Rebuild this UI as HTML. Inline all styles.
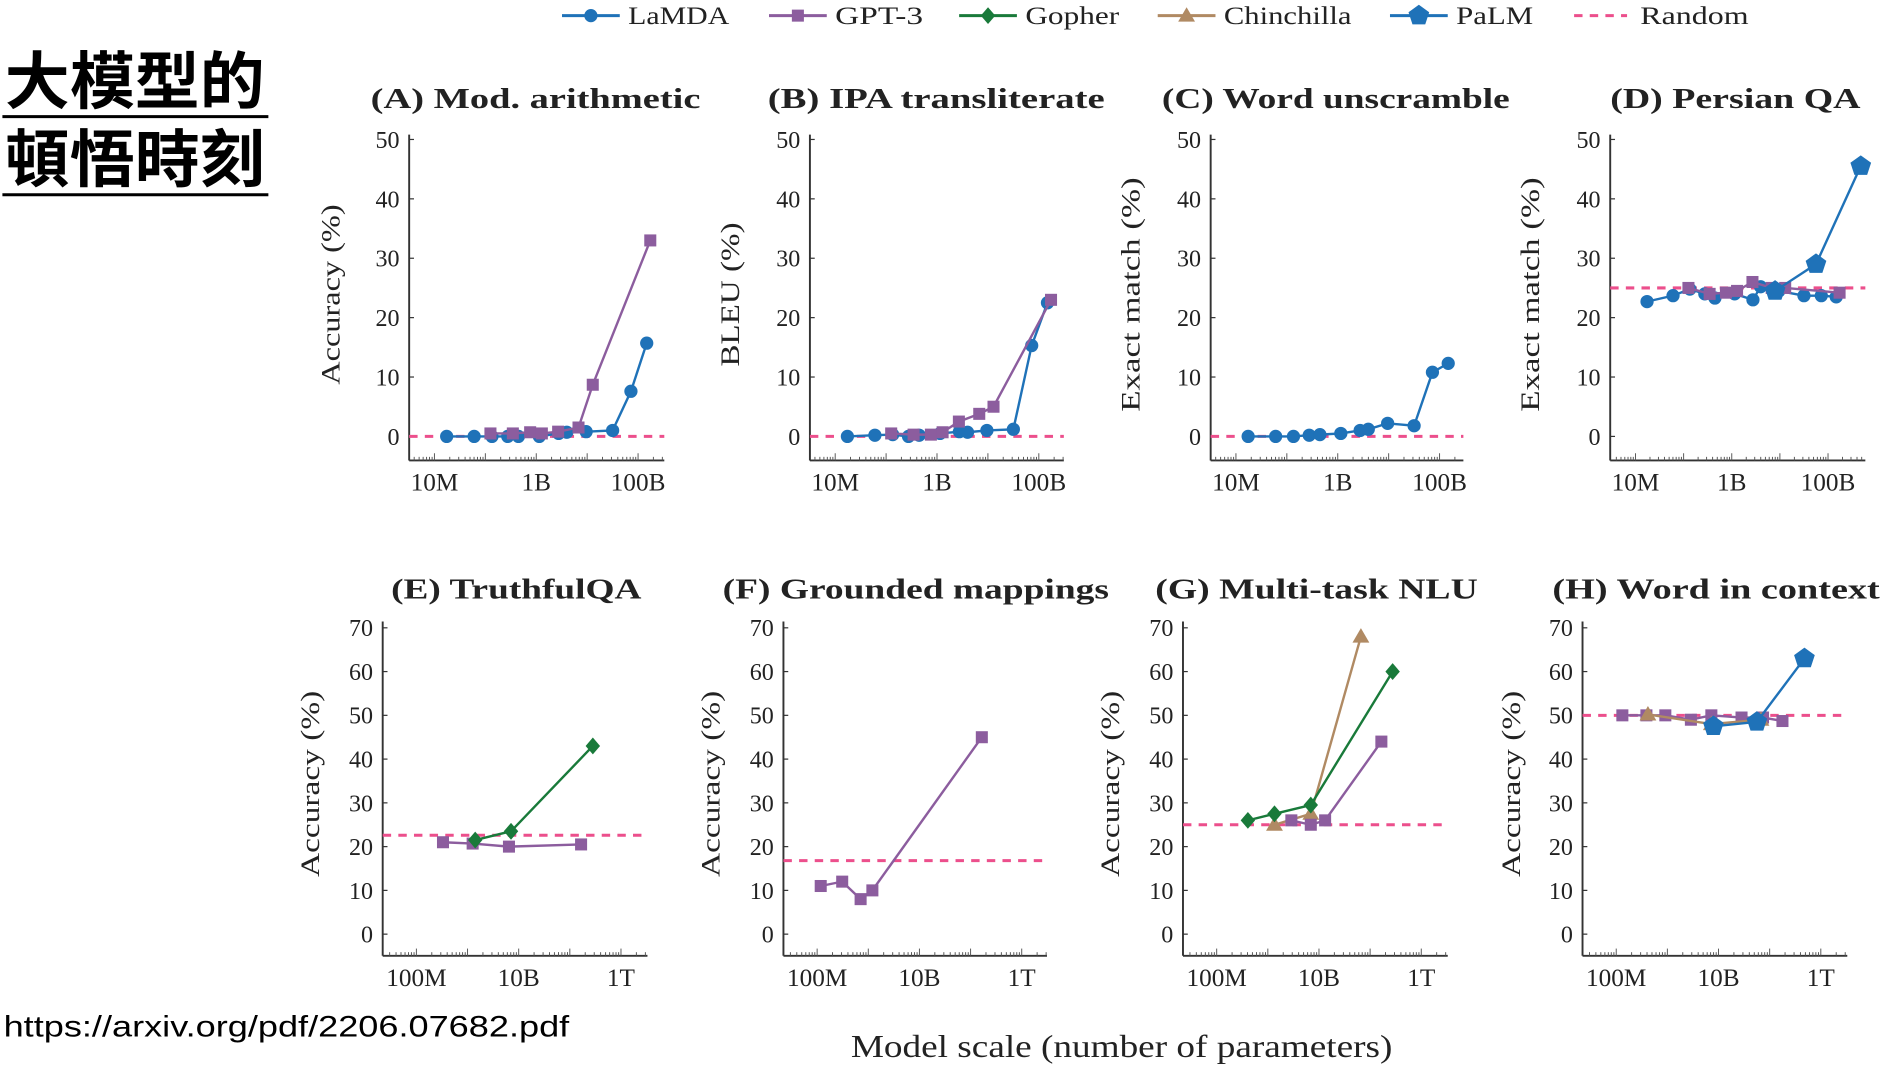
<!DOCTYPE html>
<html><head><meta charset="utf-8"><style>
html,body{margin:0;padding:0;background:#fff;}
svg{display:block;}
text{font-family:"Liberation Serif",serif;fill:#222;}
</style></head><body>
<svg id="c" width="1887" height="1070" viewBox="0 0 1568 890" preserveAspectRatio="none">
<g>
<text x="4" y="86" textLength="216" lengthAdjust="spacingAndGlyphs" style="font-family:'Liberation Sans','Noto Sans CJK TC',sans-serif;font-size:52px;font-weight:bold;fill:#000">大模型的</text>
<line x1="2" y1="97" x2="223" y2="97" stroke="#000" stroke-width="2.5"/>
<text x="4" y="151" textLength="216" lengthAdjust="spacingAndGlyphs" style="font-family:'Liberation Sans','Noto Sans CJK TC',sans-serif;font-size:52px;font-weight:bold;fill:#000">頓悟時刻</text>
<line x1="2" y1="162" x2="223" y2="162" stroke="#000" stroke-width="2.5"/>
</g>
<text x="3" y="862" textLength="470" lengthAdjust="spacingAndGlyphs" style="font-family:'Liberation Sans',sans-serif;font-size:25px;fill:#000">https://arxiv.org/pdf/2206.07682.pdf</text>
<text x="707" y="879" textLength="450" lengthAdjust="spacingAndGlyphs" style="font-size:26px">Model scale (number of parameters)</text>
<g id="legend"></g>
<g id="panels"></g>
</svg>
<script>
// ---- data (log10 params, values in %) ----
const lamdaX = [7.24,7.78,8.13,8.44,8.65,9.06,9.44,9.6,9.98,10.5,10.86,11.17];
const gpt3X = [8.1,8.54,8.88,9.11,9.43,9.83,10.11,11.24];
const palmX = [9.9,10.75,11.68];
const aLamda = [0,0,0,0,0,0,0.5,0.7,0.8,1,7.6,15.7];
const aGpt3 = [0.5,0.5,0.7,0.5,0.8,1.5,8.7,33];
const bLamda = [0,0.2,0.3,0,0.2,0.5,0.8,0.7,1,1.2,15.3,22.5];
const bGpt3 = [0.5,0.3,0.3,0.7,2.5,3.8,5,23];
const cLamda = [0,0,0,0.2,0.3,0.5,1,1.2,2.2,1.8,10.8,12.3];
const dLamda = [22.7,23.7,24.8,24,23.3,24,23,25.2,24.5,23.7,23.7,23.5];
const dGpt3 = [25,24,24.2,24.5,26,25,25,24.2];
const dPalm = [24.5,29,45.5];
const eGpt3X = [8.52,9.1,9.81,11.22];
const eGpt3 = [21,20.7,20,20.5];
const gopherX = [9.15,9.85,11.45];
const eGopher = [21.5,23.5,43];
const fGpt3X = [8.07,8.49,8.85,9.08,11.22];
const fGpt3 = [11,12,8,10,45];
const gGopherX = [8.61,9.13,9.84,11.44];
const gGopher = [26,27.5,29.5,60];
const gChinX = [9.13,9.84,10.82];
const gChin = [25,27.5,68];
const gGpt3X = [9.46,9.84,10.12,11.22];
const gGpt3 = [26,25,26,44];
const hGpt3X = [8.12,8.59,8.96,9.46,9.86,10.45,10.87,11.25];
const hGpt3 = [50,50,50,49,50,49.5,49.5,48.7];
const hChinX = [8.62,9.86,10.83];
const hChin = [50.2,48,49];
const hPalm = [47.5,48.5,63];
const randomLevels = [0,0,0,25,22.6,16.8,25,50];
const topTicks = [0,10,20,30,40,50];
const botTicks = [0,10,20,30,40,50,60,70];
const topXLabels = ["10M","1B","100B"];
const botXLabels = ["100M","10B","1T"];

const C = {lamda:"#1f72b8",gpt3:"#8c5d9e",gopher:"#197a3a",chin:"#b08a63",palm:"#1f72b8",rand:"#ec4f8c"};
const NS="http://www.w3.org/2000/svg";
const svg=document.getElementById('c');
function el(tag,attrs,parent){const e=document.createElementNS(NS,tag);for(const k in attrs)e.setAttribute(k,attrs[k]);parent.appendChild(e);return e;}

function marker(g,type,x,y,color){
  let m;
  if(type==='circle'){m=el('circle',{cx:x,cy:y,r:5.5,fill:color},g);}
  else if(type==='square'){m=el('rect',{x:x-5,y:y-5,width:10,height:10,fill:color},g);}
  else if(type==='diamond'){m=el('polygon',{points:`${x},${y-7} ${x+6},${y} ${x},${y+7} ${x-6},${y}`,fill:color},g);}
  else if(type==='triangle'){m=el('polygon',{points:`${x},${y-7} ${x+7},${y+5} ${x-7},${y+5}`,fill:color},g);}
  else {let p=[];for(let i=0;i<5;i++){const a=-Math.PI/2+i*2*Math.PI/5;p.push((x+9*Math.cos(a)).toFixed(1)+','+(y+9*Math.sin(a)).toFixed(1));}m=el('polygon',{points:p.join(' '),fill:color},g);}
  return m;
}

// legend
const lg=document.getElementById('legend');
const legendItems=[["LaMDA",C.lamda,'circle',467,84],["GPT-3",C.gpt3,'square',639,73],["Gopher",C.gopher,'diamond',797,78],["Chinchilla",C.chin,'triangle',962,106],["PaLM",C.palm,'pentagon',1155,64],["Random",C.rand,null,1308,90]];
legendItems.forEach(([name,col,type,x,w])=>{
  const g=el('g',{},lg);
  
  
  if(type){el('line',{x1:x,y1:13,x2:x+48,y2:13,stroke:col,'stroke-width':2.5},g);marker(g,type,x+24,13,col);}
  else el('line',{x1:x,y1:13,x2:x+44,y2:13,stroke:col,'stroke-width':2.5,'stroke-dasharray':'7,6'},g);
  const t=el('text',{x:x+55,y:20,'font-size':21,textLength:w,lengthAdjust:'spacingAndGlyphs'},g);t.textContent=name;
});

const panels=[
 {id:'A',title:'(A) Mod. arithmetic',tw:274,ylab:'Accuracy (%)',yw:150,ax:340,ref:361,dec:42.3,xend:552,row:0,tcx:445,ylx:282,
  series:[[lamdaX,aLamda,'lamda','circle'],[gpt3X,aGpt3,'gpt3','square']]},
 {id:'B',title:'(B) IPA transliterate',tw:280,ylab:'BLEU (%)',yw:120,ax:673,ref:694,dec:42.3,xend:884,row:0,tcx:778,ylx:614,
  series:[[lamdaX,bLamda,'lamda','circle'],[gpt3X,bGpt3,'gpt3','square']]},
 {id:'C',title:'(C) Word unscramble',tw:289,ylab:'Exact match (%)',yw:195,ax:1006,ref:1027,dec:42.3,xend:1216,row:0,tcx:1110,ylx:947,
  series:[[lamdaX,cLamda,'lamda','circle']]},
 {id:'D',title:'(D) Persian QA',tw:208,ylab:'Exact match (%)',yw:195,ax:1338,ref:1359,dec:40,xend:1550,row:0,tcx:1442,ylx:1279,
  series:[[lamdaX,dLamda,'lamda','circle'],[gpt3X,dGpt3,'gpt3','square'],[palmX,dPalm,'palm','pentagon']]},
 {id:'E',title:'(E) TruthfulQA',tw:208,ylab:'Accuracy (%)',yw:155,ax:318,ref:346,dec:42.5,xend:538,row:1,tcx:429,ylx:265,
  series:[[eGpt3X,eGpt3,'gpt3','square'],[gopherX,eGopher,'gopher','diamond']]},
 {id:'F',title:'(F) Grounded mappings',tw:321,ylab:'Accuracy (%)',yw:155,ax:651,ref:679,dec:42.5,xend:870,row:1,tcx:761,ylx:598,
  series:[[fGpt3X,fGpt3,'gpt3','square']]},
 {id:'G',title:'(G) Multi-task NLU',tw:268,ylab:'Accuracy (%)',yw:155,ax:983,ref:1011,dec:42.5,xend:1203,row:1,tcx:1094,ylx:930,
  series:[[gChinX,gChin,'chin','triangle'],[gGpt3X,gGpt3,'gpt3','square'],[gGopherX,gGopher,'gopher','diamond']]},
 {id:'H',title:'(H) Word in context',tw:272,ylab:'Accuracy (%)',yw:155,ax:1315,ref:1343,dec:42.5,xend:1535,row:1,tcx:1426,ylx:1263,
  series:[[hGpt3X,hGpt3,'gpt3','square'],[hChinX,hChin,'chin','triangle'],[palmX,hPalm,'palm','pentagon']]}
];

const pg=document.getElementById('panels');
panels.forEach((p,pi)=>{
  const g=el('g',{},pg);
  
  
  const top=p.row===0;
  const y0=top?363:777, per=top?4.94:3.64, ytop=top?112:517, ybot=top?383:795;
  const x0log=top?7:8;
  const sx=v=>p.ref+(v-x0log)*p.dec;
  const sy=v=>y0-v*per;
  const t=el('text',{x:p.tcx,y:top?90:498,'text-anchor':'middle','font-size':24,'font-weight':'bold',textLength:p.tw,lengthAdjust:'spacingAndGlyphs'},g);
  
  
  t.textContent=p.title;
  const yc=top?245:652;
  const yl=el('text',{x:p.ylx,y:yc,'text-anchor':'middle','font-size':22,textLength:p.yw,lengthAdjust:'spacingAndGlyphs',transform:`rotate(-90 ${p.ylx} ${yc})`},g);
  
  
  yl.textContent=p.ylab;
  el('line',{x1:p.ax,y1:ytop,x2:p.ax,y2:ybot,stroke:'#333','stroke-width':1.6},g);
  el('line',{x1:p.ax,y1:ybot,x2:p.xend,y2:ybot,stroke:'#333','stroke-width':1.6},g);
  (top?topTicks:botTicks).forEach(v=>{
    el('line',{x1:p.ax,y1:sy(v),x2:p.ax+4,y2:sy(v),stroke:'#333','stroke-width':1},g);
    const tt=el('text',{x:p.ax-8,y:sy(v)+7,'text-anchor':'end','font-size':20},g);
    
    
    tt.textContent=v;
  });
  for(let d=x0log-1;d<x0log+6;d++){
    for(let k=1;k<10;k++){
      const xv=sx(d+Math.log10(k));
      if(xv<=p.ax+2||xv>=p.xend)continue;
      el('line',{x1:xv,y1:ybot,x2:xv,y2:ybot-(k===1?6:3),stroke:'#555','stroke-width':0.8},g);
    }
  }
  (top?topXLabels:botXLabels).forEach((lab,i)=>{
    const tt=el('text',{x:sx(x0log+2*i),y:ybot+25,'text-anchor':'middle','font-size':21},g);
    
    
    tt.textContent=lab;
  });
  const rl=el('line',{x1:p.ax,y1:sy(randomLevels[pi]),x2:p.xend,y2:sy(randomLevels[pi]),stroke:C.rand,'stroke-width':2.5,'stroke-dasharray':'7,6'},g);
  
  
  p.series.forEach(([xs,ys,key,type])=>{
    const sg=el('g',{},g);
    
    
    el('polyline',{points:xs.map((x,i)=>sx(x)+','+sy(ys[i])).join(' '),fill:'none',stroke:C[key],'stroke-width':2},sg);
    xs.forEach((x,i)=>{const m=marker(sg,type,sx(x),sy(ys[i]),C[key]);
      
      });
  });
});
</script>
</body></html>
